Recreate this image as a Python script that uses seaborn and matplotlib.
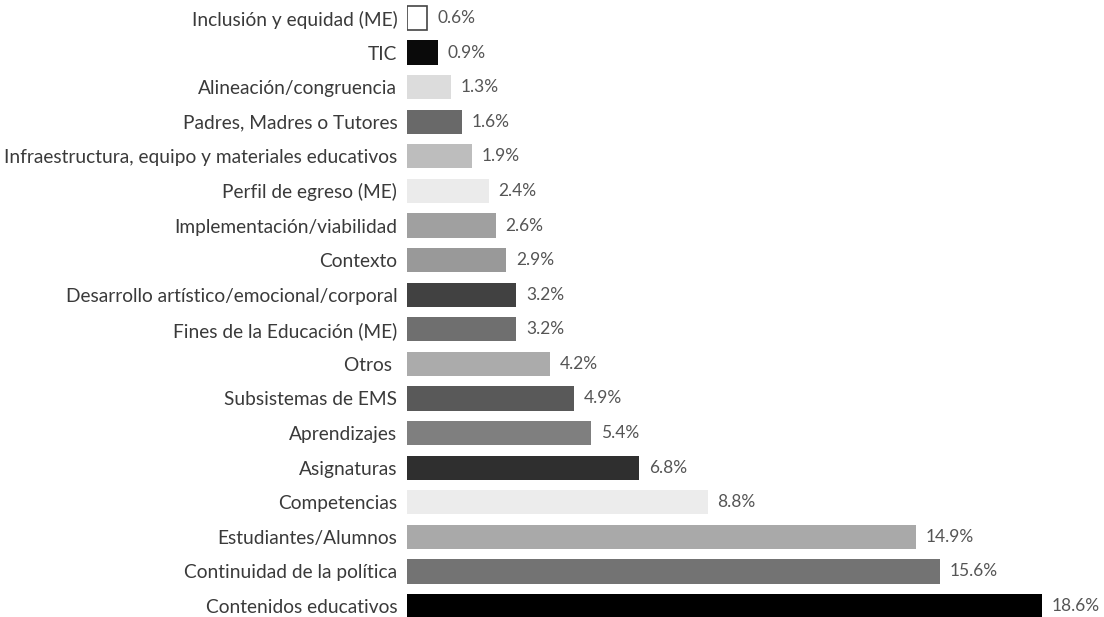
import pandas as pd
import matplotlib.pyplot as plt
import seaborn as sns

categorias = [
    'Inclusión y equidad (ME)', 'TIC', 'Alineación/congruencia',
    'Padres, Madres o Tutores', 'Infraestructura, equipo y materiales educativos',
    'Perfil de egreso (ME)', 'Implementación/viabilidad', 'Contexto',
    'Desarrollo artístico/emocional/corporal', 'Fines de la Educación (ME)',
    'Otros ', 'Subsistemas de EMS', 'Aprendizajes', 'Asignaturas',
    'Competencias', 'Estudiantes/Alumnos', 'Continuidad de la política',
    'Contenidos educativos',
]
porcentajes = [0.6, 0.9, 1.3, 1.6, 1.9, 2.4, 2.6, 2.9, 3.2, 3.2,
               4.2, 4.9, 5.4, 6.8, 8.8, 14.9, 15.6, 18.6]
colores = ['#ffffff', '#0a0a0a', '#dcdcdc', '#696969', '#bdbdbd', '#ebebeb',
           '#a0a0a0', '#999999', '#414141', '#6f6f6f', '#ababab', '#595959',
           '#7f7f7f', '#2f2f2f', '#ececec', '#a9a9a9', '#737373', '#000000']

df = pd.DataFrame({'Categoria': categorias, 'Porcentaje': porcentajes})

sns.set_theme(style="white")
plt.rcParams['font.family'] = ['Lato', 'DejaVu Sans']

fig = plt.figure(figsize=(11.04, 6.17), dpi=100)
ax = fig.add_axes([407 / 1104, 0, 1 - 407 / 1104, 1])

sns.barplot(data=df, x='Porcentaje', y='Categoria', hue='Categoria',
            palette=colores, legend=False, width=0.7, ax=ax, saturation=1)

# la primera barra es blanca con borde
for i, p in enumerate(ax.patches):
    if i == 0:
        p.set_edgecolor('#444444')
        p.set_linewidth(1.2)
    else:
        p.set_edgecolor('none')

for cont in ax.containers:
    ax.bar_label(cont, labels=[f'{v:.1f}%' for v in cont.datavalues],
                 padding=7, fontsize=12.5, color='#555555')

ax.set_xlim(0, (1104 - 407) / 34.15)
ax.set_ylim(17 + 11 / 34.6, -18 / 34.6)
ax.set_xlabel('')
ax.set_ylabel('')
ax.set_xticks([])
ax.tick_params(axis='y', length=0, pad=7, labelsize=13.8, labelcolor='#3a3a3a')
sns.despine(ax=ax, left=True, bottom=True)

fig.savefig('out.png', dpi=100)
